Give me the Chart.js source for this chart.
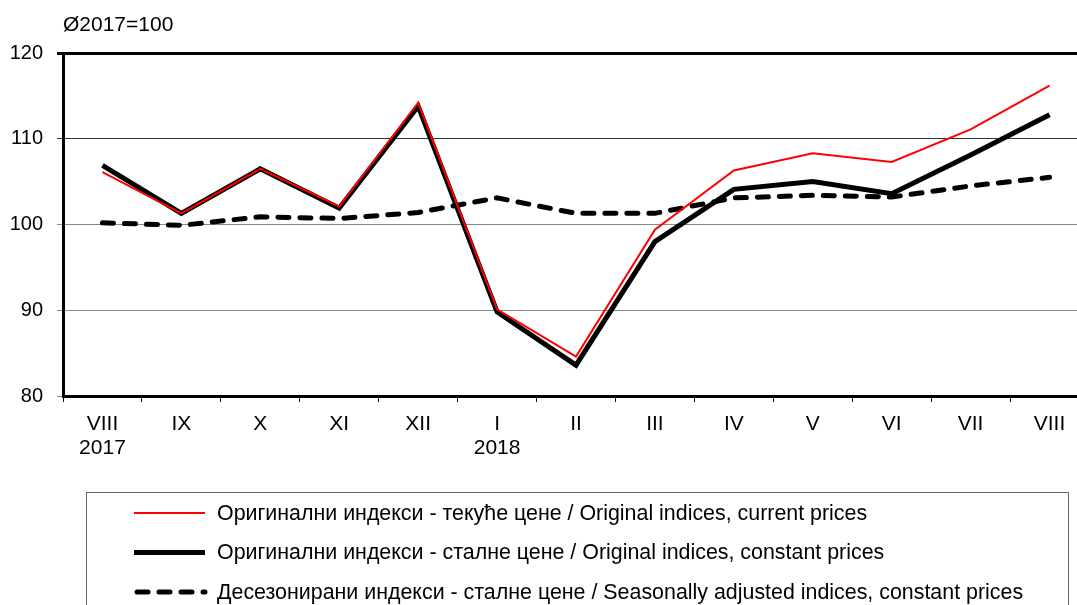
<!DOCTYPE html>
<html>
<head>
<meta charset="utf-8">
<script src="https://cdn.jsdelivr.net/npm/chart.js@4/dist/chart.umd.min.js"></script>
<style>
  html, body { margin: 0; padding: 0; background: #fff; overflow: hidden; }
  canvas { display: block; }
</style>
</head>
<body>
<canvas id="indeksChart" width="1100" height="605"></canvas>
<script>
// podaci
const months = [['VIII', '2017'], 'IX', 'X', 'XI', 'XII', ['I', '2018'], 'II', 'III', 'IV', 'V', 'VI', 'VII', 'VIII'];
const tekuceCene = [106.1, 101.3, 106.5, 102.1, 114.2, 90.1, 84.6, 99.4, 106.3, 108.3, 107.3, 111.1, 116.2];
const stalneCene = [106.9, 101.3, 106.5, 101.9, 113.8, 89.8, 83.6, 98.0, 104.1, 105.0, 103.6, 108.1, 112.8];
const desezonirani = [100.2, 99.9, 100.9, 100.7, 101.4, 103.1, 101.3, 101.3, 103.1, 103.4, 103.2, 104.5, 105.5];
const seriesNames = [
    'Оригинални индекси - текуће цене / Original indices, current prices',
    'Оригинални индекси - сталне цене / Original indices, constant prices',
    'Десезонирани индекси - сталне цене / Seasonally adjusted indices, constant prices'
];
const baseNote = 'Ø2017=100';

const FONT = '"Liberation Sans", Arial, sans-serif';

// legenda i napomena se crtaju rucno (legenda je u okviru, jedna serija po redu)
const boxLegend = {
    id: 'boxLegend',
    afterDraw(chart) {
        const c = chart.ctx;
        c.save();
        c.font = '21px ' + FONT;
        c.fillStyle = '#000';
        c.textBaseline = 'middle';
        c.textAlign = 'left';
        c.fillText(baseNote, 63, 25);

        c.strokeStyle = '#666';
        c.lineWidth = 1;
        c.strokeRect(86.5, 492.5, 982, 140);

        c.font = '21.4px ' + FONT;
        chart.data.datasets.forEach(function (ds, i) {
            const y = 513 + i * 39.5;
            c.save();
            c.strokeStyle = ds.borderColor;
            c.lineWidth = ds.borderWidth;
            c.lineCap = ds.borderCapStyle || 'butt';
            c.setLineDash(ds.borderDash || []);
            c.beginPath();
            c.moveTo(ds.borderDash ? 137 : 134, y);
            c.lineTo(205, y);
            c.stroke();
            c.restore();
            c.fillText(ds.label, 217, y + 1);
        });
        c.restore();
    }
};

new Chart(document.getElementById('indeksChart'), {
    type: 'line',
    data: {
        labels: months,
        datasets: [{
            label: seriesNames[0],
            data: tekuceCene,
            borderColor: '#ff0000',
            borderWidth: 2
        }, {
            label: seriesNames[1],
            data: stalneCene,
            borderColor: '#000000',
            borderWidth: 5,
            borderJoinStyle: 'miter'
        }, {
            label: seriesNames[2],
            data: desezonirani,
            borderColor: '#000000',
            borderWidth: 5,
            borderDash: [11, 11],
            borderCapStyle: 'round'
        }]
    },
    options: {
        responsive: false,
        animation: false,
        devicePixelRatio: 1,
        layout: { padding: { top: 53, right: 11, left: 0, bottom: 0 } },
        elements: {
            point: { radius: 0 },
            line: { tension: 0 }
        },
        plugins: {
            legend: { display: false },
            tooltip: { enabled: false }
        },
        scales: {
            x: {
                offset: true,
                afterFit: function (scale) { scale.height = 209; },
                grid: {
                    offset: true,
                    drawOnChartArea: false,
                    drawTicks: true,
                    tickLength: 6,
                    color: '#000'
                },
                border: { color: '#000', width: 3 },
                ticks: {
                    color: '#000',
                    padding: 10,
                    maxRotation: 0,
                    font: { family: FONT, size: 21, lineHeight: 1.15 }
                }
            },
            y: {
                min: 80,
                max: 120,
                afterFit: function (scale) { scale.width = 63; },
                grid: {
                    drawTicks: true,
                    tickLength: 6,
                    color: function (ctx) {
                        const v = ctx.tick && ctx.tick.value;
                        if (v === 120) return '#000';
                        if (v === 110) return '#333';
                        return '#888';
                    },
                    lineWidth: function (ctx) {
                        return ctx.tick && ctx.tick.value === 120 ? 3 : 1;
                    }
                },
                border: { color: '#000', width: 3 },
                ticks: {
                    stepSize: 10,
                    color: '#000',
                    padding: 14,
                    font: { family: FONT, size: 20 }
                }
            }
        }
    },
    plugins: [boxLegend]
});
</script>
</body>
</html>
